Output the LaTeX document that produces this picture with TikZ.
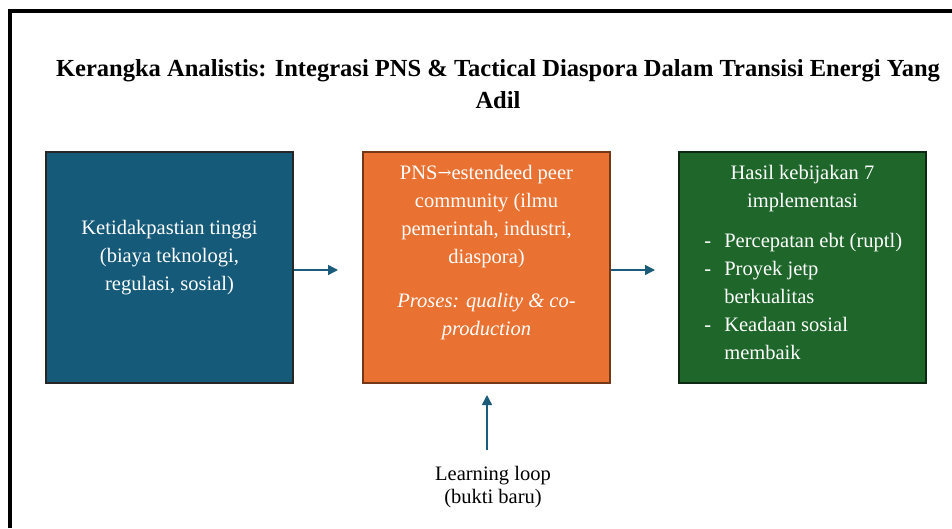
\documentclass[tikz,border=0pt]{standalone}
\usepackage{fontspec}
\setmainfont{Liberation Serif}
\usetikzlibrary{arrows.meta}
\definecolor{boxblue}{RGB}{22,90,122}
\definecolor{boxorange}{RGB}{233,113,50}
\definecolor{boxgreen}{RGB}{30,102,42}
\definecolor{arrowblue}{RGB}{27,92,125}
\begin{document}
\begin{tikzpicture}[x=0.75pt,y=-0.75pt,
  box/.style={rectangle,minimum width=185.25pt,minimum height=173.25pt,line width=1.2pt,inner sep=0pt},
  boxtext/.style={text=white,font=\fontsize{15.4}{21}\selectfont,align=center,inner sep=0pt},
  flow/.style={draw=arrowblue,line width=1.1pt,-{Triangle[length=7.5pt,width=7.5pt]}}]
\useasboundingbox (0,0) rectangle (952,528);
\fill[white] (0,0) rectangle (952,528);
\draw[line width=3pt] (10,528) -- (10,11.5) -- (952,11.5);
\node[font=\bfseries\fontsize{18.4}{24}\selectfont,align=center] (title) at (498,84)
  {Kerangka Analistis: Integrasi PNS \& Tactical Diaspora Dalam Transisi Energi Yang\\Adil};
\node[box,fill=boxblue,draw=black!85] (b1) at (169.5,267.5) {};
\node[box,fill=boxorange,draw=boxorange!50!black] (b2) at (486.5,267.5) {};
\node[box,fill=boxgreen,draw=boxgreen!40!black] (b3) at (802.5,267.5) {};
\node[boxtext] (t1) at (169.5,258) {Ketidakpastian tinggi\\(biaya teknologi,\\regulasi, sosial)};
\node[boxtext,anchor=north] (t2) at (486.5,165)
  {PNS\raisebox{0.05em}{\fontspec{DejaVu Serif}\fontsize{12.5}{21}\selectfont→}estendeed peer\\community (ilmu\\pemerintah, industri,\\diaspora)\\[12pt]\itshape Proses: quality \& co-\\\itshape production};
\node[boxtext,anchor=north] (t3a) at (802.5,165) {Hasil kebijakan 7\\implementasi};
\node[boxtext,anchor=north west,align=left] (t3b) at (704,233)
  {\makebox[15pt][l]{-}Percepatan ebt (ruptl)\\
   \makebox[15pt][l]{-}Proyek jetp\\
   \hspace*{15pt}berkualitas\\
   \makebox[15pt][l]{-}Keadaan sosial\\
   \hspace*{15pt}membaik};
\node[font=\fontsize{15.4}{17}\selectfont,align=center,inner sep=0pt] (ll) at (493,487) {Learning loop\\(bukti baru)};
\coordinate (a1e) at (338,270);
\coordinate (a2e) at (655,270);
\coordinate (a3s) at (487,450);
\coordinate (a3e) at (487,395);
\draw[flow] (b1.east |- a1e) -- (a1e);
\draw[flow] (b2.east |- a2e) -- (a2e);
\draw[flow] (a3s) -- (a3e);
\end{tikzpicture}
\end{document}
